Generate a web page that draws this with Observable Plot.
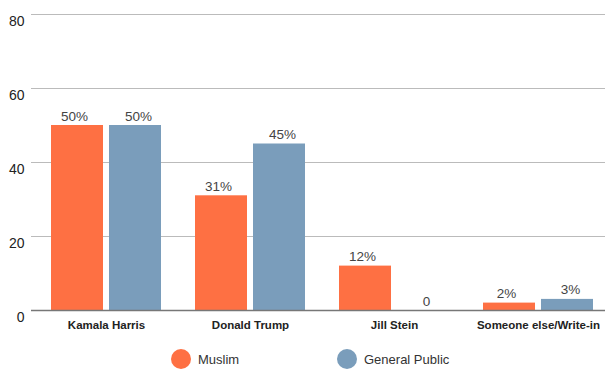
<!DOCTYPE html>
<html>
<head>
<meta charset="utf-8">
<script src="https://cdn.jsdelivr.net/npm/d3@7"></script>
<script src="https://cdn.jsdelivr.net/npm/@observablehq/plot@0.6"></script>
<style>
  html, body { margin: 0; padding: 0; background: #fff; }
  #chart { width: 605px; font-family: "Liberation Sans", Arial, sans-serif; }
  .legend { position: relative; height: 29px; width: 605px; font-size: 13px; color: #333; }
  .legend .item { position: absolute; top: 0; display: flex; align-items: center; height: 20px; }
  .legend .dot { width: 20px; height: 20px; border-radius: 50%; margin-right: 7px; }
</style>
</head>
<body>
<div id="chart"></div>
<script>
const categories = ["Kamala Harris", "Donald Trump", "Jill Stein", "Someone else/Write-in"];
const series = ["Muslim", "General Public"];
const muslimValues = [50, 31, 12, 2];
const publicValues = [50, 45, 0, 3];
const muslimLabels = ["50%", "31%", "12%", "2%"];
const publicLabels = ["50%", "45%", "0", "3%"];
const yTicks = [0, 20, 40, 60, 80];
const colors = ["#FE7043", "#7A9DBB"];

const muslim = categories.map((c, i) => ({category: c, value: muslimValues[i], label: muslimLabels[i]}));
const pub = categories.map((c, i) => ({category: c, value: publicValues[i], label: publicLabels[i]}));

const half = 58; // half band offset for grouped bars (bandwidth 110, bar 52, gap 6)

const chart = Plot.plot({
  width: 605,
  height: 340,
  marginLeft: 31,
  marginRight: 0,
  marginTop: 14,
  marginBottom: 30,
  style: {fontFamily: "'Liberation Sans', Arial, sans-serif", background: "#fff"},
  x: {domain: categories, paddingInner: 0.236, paddingOuter: 0.111, align: 0.625, axis: null},
  y: {domain: [0, 80], axis: null},
  marks: [
    Plot.ruleY(yTicks.filter(d => d > 0), {stroke: "#bbbbbb", strokeWidth: 1.2}),
    Plot.axisY(yTicks, {tickSize: 0, tickPadding: 7, dy: 7, fontSize: 14, fill: "#222", label: null}),
    Plot.barY(muslim, {x: "category", y: "value", fill: colors[0], insetRight: half}),
    Plot.barY(pub, {x: "category", y: "value", fill: colors[1], insetLeft: half}),
    Plot.text(muslim, {x: "category", y: "value", text: "label", dx: -half / 2 - 3, dy: -5, lineAnchor: "bottom", fontSize: 13.5, fill: "#444"}),
    Plot.text(pub, {x: "category", y: "value", text: "label", dx: half / 2 + 3, dy: -5, lineAnchor: "bottom", fontSize: 13.5, fill: "#444"}),
    Plot.ruleY([0], {stroke: "#777", strokeWidth: 1.5}),
    Plot.axisX(categories, {anchor: "bottom", tickSize: 0, tickPadding: 10, fontSize: 11.5, fontWeight: "bold", fill: "#222", label: null})
  ]
});
document.getElementById("chart").appendChild(chart);

const legend = document.createElement("div");
legend.className = "legend";
const legendX = [171, 337];
series.forEach((s, i) => {
  const item = document.createElement("div");
  item.className = "item";
  item.style.left = legendX[i] + "px";
  item.style.top = "9px";
  const dot = document.createElement("span");
  dot.className = "dot";
  dot.style.background = colors[i];
  const label = document.createElement("span");
  label.textContent = s;
  item.appendChild(dot);
  item.appendChild(label);
  legend.appendChild(item);
});
document.getElementById("chart").appendChild(legend);
</script>
</body>
</html>
